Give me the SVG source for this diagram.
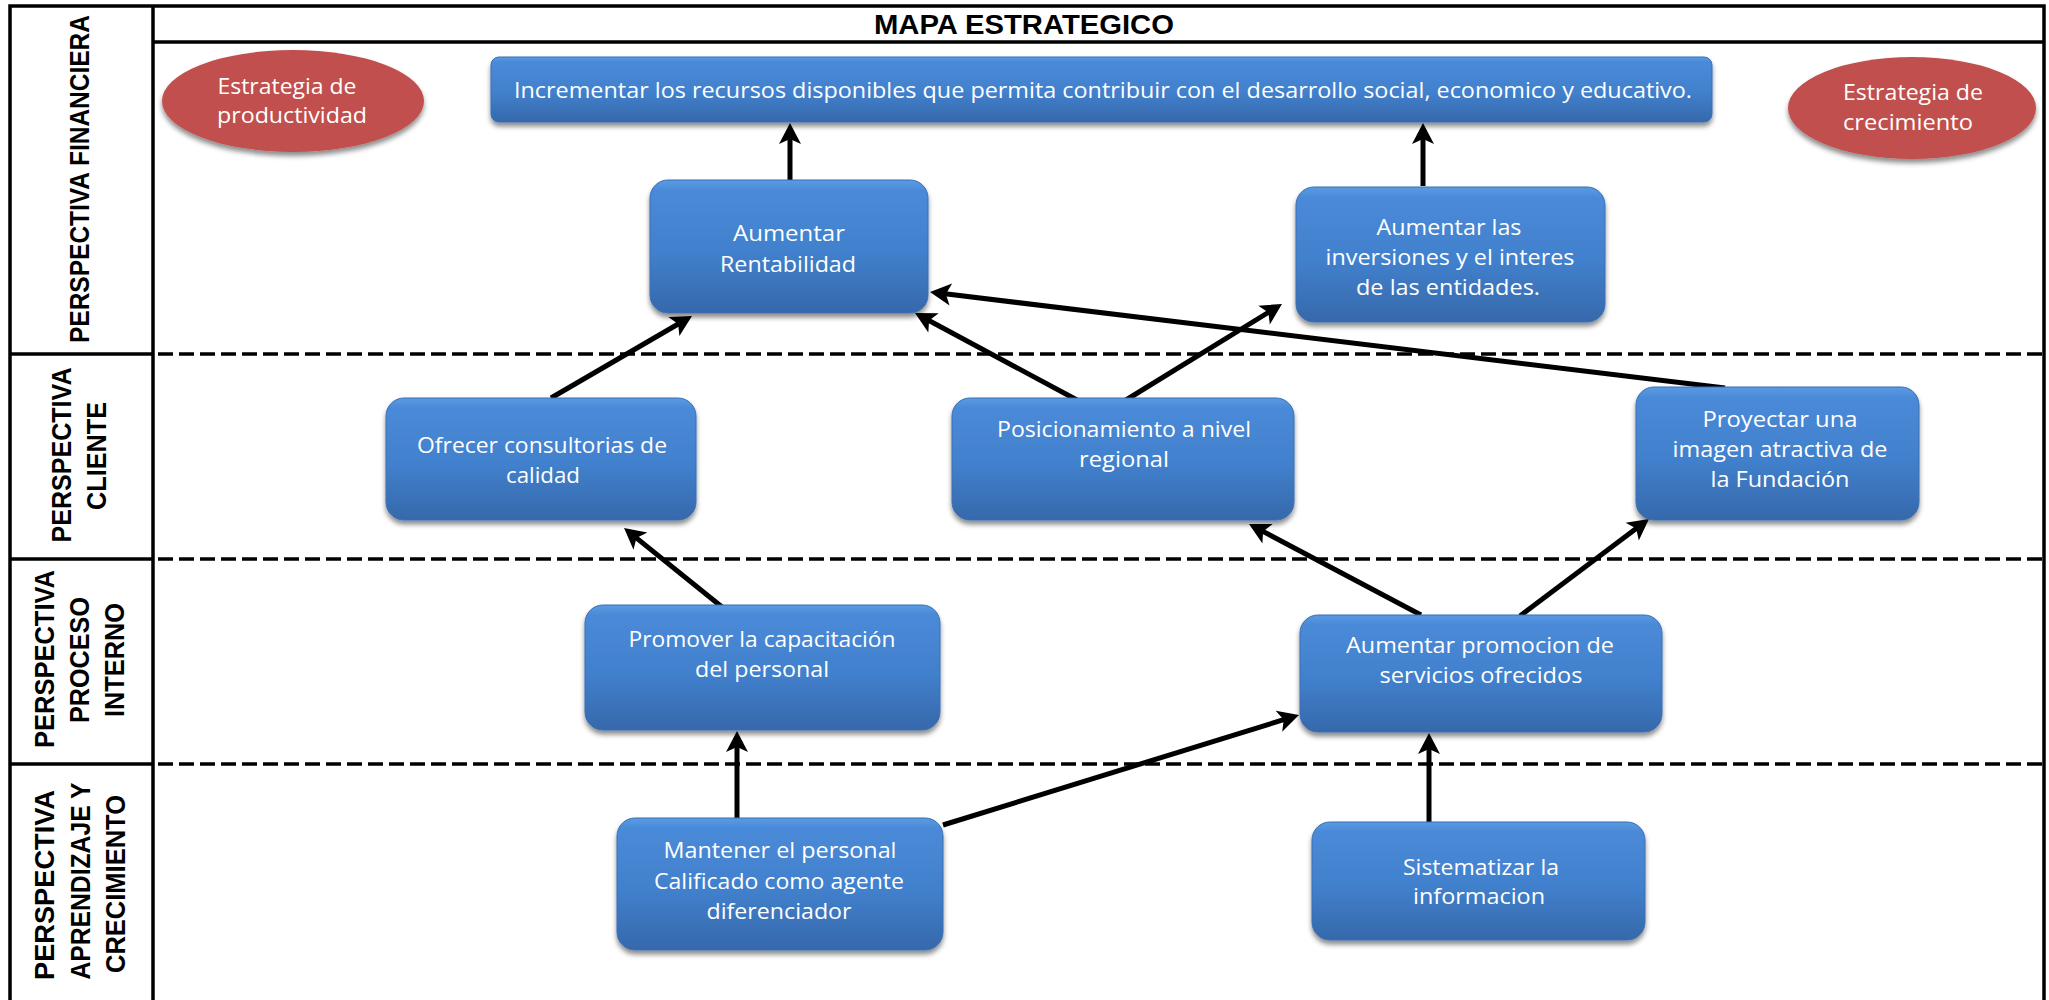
<svg xmlns="http://www.w3.org/2000/svg" width="2049" height="1000" viewBox="0 0 2049 1000">
<style>
.frame{fill:none;stroke:#000;stroke-width:3.5}
.dash{fill:none;stroke:#000;stroke-width:3.5;stroke-dasharray:15 6}
.lab{font-family:"Liberation Sans",Arial,sans-serif;font-weight:bold;font-size:28px;fill:#000;text-anchor:middle}
.title{font-family:"Liberation Sans",Arial,sans-serif;font-weight:bold;font-size:27px;fill:#000;text-anchor:middle}
.box{fill:url(#bg);stroke:#3a6fb3;stroke-width:1;filter:url(#sh)}
.ell{fill:#C0504D;filter:url(#sh)}
.t{font-family:"Open Sans","Liberation Sans",sans-serif;font-size:21px;fill:#fff;text-anchor:middle}
.c{fill:none;stroke:#000;stroke-width:5;marker-end:url(#ah)}
</style>
<defs>
<linearGradient id="bg" x1="0" y1="0" x2="0" y2="1">
<stop offset="0" stop-color="#5a9be2"/>
<stop offset="0.08" stop-color="#4a8ad8"/>
<stop offset="0.55" stop-color="#4180cc"/>
<stop offset="1" stop-color="#3668ab"/>
</linearGradient>
<filter id="sh" x="-10%" y="-10%" width="120%" height="130%">
<feDropShadow dx="0" dy="4" stdDeviation="2.5" flood-color="#000" flood-opacity="0.45"/>
</filter>
<marker id="ah" markerUnits="userSpaceOnUse" markerWidth="26" markerHeight="26" viewBox="-13 -13 26 26" refX="0" refY="0" orient="auto">
<path d="M11,0 L-10,-11 L-5,0 L-10,11 Z" fill="#000"/>
</marker>
</defs>

<g id="frame">
<rect class="frame" x="10" y="6" width="2034" height="1000"/>
<line class="frame" x1="153" y1="6" x2="153" y2="1000"/>
<line class="frame" x1="153" y1="42" x2="2044" y2="42"/>
<line class="frame" x1="10" y1="354" x2="153" y2="354"/>
<line class="frame" x1="10" y1="559" x2="153" y2="559"/>
<line class="frame" x1="10" y1="764" x2="153" y2="764"/>
<line class="dash" x1="158" y1="354" x2="2044" y2="354"/>
<line class="dash" x1="158" y1="559" x2="2044" y2="559"/>
<line class="dash" x1="158" y1="764" x2="2044" y2="764"/>
<text class="title" x="1024" y="34" textLength="300" lengthAdjust="spacingAndGlyphs">MAPA ESTRATEGICO</text>
</g>

<g id="labels">
<text class="lab" transform="translate(89,179) rotate(-90)" textLength="328" lengthAdjust="spacingAndGlyphs">PERSPECTIVA FINANCIERA</text>
<text class="lab" transform="translate(71,455) rotate(-90)" textLength="175" lengthAdjust="spacingAndGlyphs">PERSPECTIVA</text>
<text class="lab" transform="translate(106,456) rotate(-90)" textLength="108" lengthAdjust="spacingAndGlyphs">CLIENTE</text>
<text class="lab" transform="translate(54,659) rotate(-90)" textLength="178" lengthAdjust="spacingAndGlyphs">PERSPECTIVA</text>
<text class="lab" transform="translate(89,660) rotate(-90)" textLength="126" lengthAdjust="spacingAndGlyphs">PROCESO</text>
<text class="lab" transform="translate(124,660) rotate(-90)" textLength="114" lengthAdjust="spacingAndGlyphs">INTERNO</text>
<text class="lab" transform="translate(54,885) rotate(-90)" textLength="190" lengthAdjust="spacingAndGlyphs">PERSPECTIVA</text>
<text class="lab" transform="translate(90,881) rotate(-90)" textLength="197" lengthAdjust="spacingAndGlyphs">APRENDIZAJE Y</text>
<text class="lab" transform="translate(125,884) rotate(-90)" textLength="178" lengthAdjust="spacingAndGlyphs">CRECIMIENTO</text>
</g>

<g id="connectors">
<line class="c" x1="790" y1="181" x2="790" y2="134"/>
<line class="c" x1="1423" y1="186" x2="1423" y2="134"/>
<line class="c" x1="551" y1="398" x2="682.5" y2="321.5"/>
<line class="c" x1="1077" y1="400" x2="924.7" y2="318.2"/>
<line class="c" x1="1126" y1="400" x2="1272.6" y2="309.8"/>
<line class="c" x1="1725" y1="388" x2="940.9" y2="293.3"/>
<line class="c" x1="722" y1="607" x2="632.6" y2="534.9"/>
<line class="c" x1="1421" y1="615" x2="1258.7" y2="529.1"/>
<line class="c" x1="1520" y1="616" x2="1640.2" y2="525.6"/>
<line class="c" x1="737" y1="820" x2="737" y2="742"/>
<line class="c" x1="943" y1="825" x2="1288.5" y2="718.2"/>
<line class="c" x1="1429" y1="824" x2="1429" y2="744"/>
</g>

<g id="est-productividad">
<ellipse class="ell" cx="293" cy="101" rx="131" ry="51"/>
<text class="t" x="287" y="94" textLength="139" lengthAdjust="spacingAndGlyphs">Estrategia de</text>
<text class="t" x="292" y="123" textLength="150" lengthAdjust="spacingAndGlyphs">productividad</text>
</g>

<g id="est-crecimiento">
<ellipse class="ell" cx="1912" cy="108" rx="124" ry="51"/>
<text class="t" x="1913" y="100" textLength="140" lengthAdjust="spacingAndGlyphs">Estrategia de</text>
<text class="t" x="1908" y="130" textLength="130" lengthAdjust="spacingAndGlyphs">crecimiento</text>
</g>

<g id="incrementar">
<rect class="box" x="491" y="57" width="1221" height="65" rx="8"/>
<text class="t" x="1103" y="98" textLength="1178" lengthAdjust="spacingAndGlyphs">Incrementar los recursos disponibles que permita contribuir con el desarrollo social, economico y educativo.</text>
</g>

<g id="rentabilidad">
<rect class="box" x="650" y="180" width="278" height="133" rx="18"/>
<text class="t" x="789" y="241" textLength="112" lengthAdjust="spacingAndGlyphs">Aumentar</text>
<text class="t" x="788" y="272" textLength="136" lengthAdjust="spacingAndGlyphs">Rentabilidad</text>
</g>

<g id="inversiones">
<rect class="box" x="1296" y="187" width="309" height="135" rx="18"/>
<text class="t" x="1449" y="235" textLength="145" lengthAdjust="spacingAndGlyphs">Aumentar las</text>
<text class="t" x="1450" y="265" textLength="249" lengthAdjust="spacingAndGlyphs">inversiones y el interes</text>
<text class="t" x="1448" y="295" textLength="184" lengthAdjust="spacingAndGlyphs">de las entidades.</text>
</g>

<g id="consultorias">
<rect class="box" x="386" y="398" width="310" height="122" rx="18"/>
<text class="t" x="542" y="453" textLength="250" lengthAdjust="spacingAndGlyphs">Ofrecer consultorias de</text>
<text class="t" x="543" y="483" textLength="74" lengthAdjust="spacingAndGlyphs">calidad</text>
</g>

<g id="posicionamiento">
<rect class="box" x="952" y="398" width="342" height="122" rx="18"/>
<text class="t" x="1124" y="437" textLength="254" lengthAdjust="spacingAndGlyphs">Posicionamiento a nivel</text>
<text class="t" x="1124" y="467" textLength="90" lengthAdjust="spacingAndGlyphs">regional</text>
</g>

<g id="proyectar">
<rect class="box" x="1636" y="387" width="283" height="133" rx="18"/>
<text class="t" x="1780" y="427" textLength="155" lengthAdjust="spacingAndGlyphs">Proyectar una</text>
<text class="t" x="1780" y="457" textLength="215" lengthAdjust="spacingAndGlyphs">imagen atractiva de</text>
<text class="t" x="1780" y="487" textLength="139" lengthAdjust="spacingAndGlyphs">la Fundación</text>
</g>

<g id="capacitacion">
<rect class="box" x="585" y="605" width="355" height="125" rx="18"/>
<text class="t" x="762" y="647" textLength="267" lengthAdjust="spacingAndGlyphs">Promover la capacitación</text>
<text class="t" x="762" y="677" textLength="134" lengthAdjust="spacingAndGlyphs">del personal</text>
</g>

<g id="promocion">
<rect class="box" x="1300" y="615" width="362" height="117" rx="18"/>
<text class="t" x="1480" y="653" textLength="268" lengthAdjust="spacingAndGlyphs">Aumentar promocion de</text>
<text class="t" x="1481" y="683" textLength="203" lengthAdjust="spacingAndGlyphs">servicios ofrecidos</text>
</g>

<g id="mantener">
<rect class="box" x="617" y="818" width="326" height="132" rx="18"/>
<text class="t" x="780" y="858" textLength="233" lengthAdjust="spacingAndGlyphs">Mantener el personal</text>
<text class="t" x="779" y="889" textLength="250" lengthAdjust="spacingAndGlyphs">Calificado como agente</text>
<text class="t" x="779" y="919" textLength="145" lengthAdjust="spacingAndGlyphs">diferenciador</text>
</g>

<g id="sistematizar">
<rect class="box" x="1312" y="822" width="333" height="118" rx="18"/>
<text class="t" x="1481" y="875" textLength="156" lengthAdjust="spacingAndGlyphs">Sistematizar la</text>
<text class="t" x="1479" y="904" textLength="132" lengthAdjust="spacingAndGlyphs">informacion</text>
</g>
</svg>
